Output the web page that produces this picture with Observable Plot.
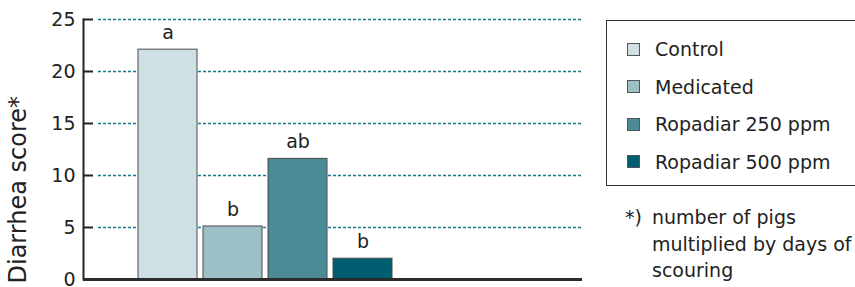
<!DOCTYPE html>
<html>
<head>
<meta charset="utf-8">
<script src="https://cdn.jsdelivr.net/npm/d3@7"></script>
<script src="https://cdn.jsdelivr.net/npm/@observablehq/plot@0.6"></script>
<style>
  html, body { margin: 0; padding: 0; background: #fff; overflow: hidden; }
  #wrap { position: relative; width: 855px; height: 287px; font-family: "DejaVu Sans", sans-serif; color: #222; }
  #legend { position: absolute; left: 606px; top: 20px; width: 270px; height: 166px; border: 1.5px solid #333; box-sizing: border-box; }
  .item { position: absolute; left: 20px; height: 24px; display: flex; align-items: center; font-size: 19px; }
  .sw { width: 11px; height: 11px; border: 1px solid #555; margin-right: 15px; }
  #note { position: absolute; left: 625px; top: 204px; font-size: 19px; line-height: 26.5px; }
  #note .row { display: flex; }
  #note .mark { width: 27px; }
</style>
</head>
<body>
<div id="wrap"></div>
<script>
const groups = ["Control", "Medicated", "Ropadiar 250 ppm", "Ropadiar 500 ppm"];
const values = [22.1, 5.1, 11.6, 2.0];
const letters = ["a", "b", "ab", "b"];
const colors = ["#cfe0e4", "#9dc0c6", "#4a8b97", "#005e70"];
const yTicks = [0, 5, 10, 15, 20, 25];
const yLabel = "Diarrhea score*";
const noteLines = ["number of pigs", "multiplied by days of", "scouring"];

const data = groups.map((g, i) => ({group: g, value: values[i], letter: letters[i]}));

const chart = Plot.plot({
  width: 855,
  height: 287,
  marginLeft: 83,
  marginRight: 273,
  marginTop: 19,
  marginBottom: 8,
  style: {fontFamily: "DejaVu Sans, sans-serif", fontSize: "18px", color: "#222", background: "#fff"},
  x: {domain: groups, range: [135, 395], paddingInner: 0.1, paddingOuter: 0.05, axis: null},
  y: {domain: [0, 25], ticks: yTicks},
  color: {domain: groups, range: colors},
  marks: [
    Plot.ruleY(yTicks.filter(d => d > 0), {stroke: "#127c8c", strokeDasharray: "3,2", strokeWidth: 1.3, insetLeft: 15}),
    Plot.barY(data, {x: "group", y: "value", fill: "group", stroke: "#4a4a4a", strokeWidth: 1}),
    Plot.text(data, {x: "group", y: "value", text: "letter", dy: -17, fontSize: 19, fill: "#222"}),
    Plot.axisY({ticks: yTicks, tickSize: 0, tickPadding: 8, label: null, fontSize: 19, fill: "#222"}),
    Plot.axisY({ticks: yTicks, tickSize: -10, text: null, label: null, stroke: "#222", strokeWidth: 2}),
    Plot.frame({anchor: "left", stroke: "#222", strokeWidth: 2}),
    Plot.ruleY([0], {stroke: "#2b2b2b", strokeWidth: 3}),
    Plot.text([yLabel], {frameAnchor: "bottom-left", text: d => d, rotate: -90, textAnchor: "start", lineAnchor: "middle", dx: -65, dy: 4, fontSize: 24, fill: "#222"})
  ]
});

const wrap = document.getElementById("wrap");
wrap.appendChild(chart);

const legend = document.createElement("div");
legend.id = "legend";
groups.forEach((g, i) => {
  const it = document.createElement("div");
  it.className = "item";
  it.style.top = (16 + i * 37.6) + "px";
  const sw = document.createElement("div");
  sw.className = "sw";
  sw.style.background = colors[i];
  const t = document.createElement("span");
  t.textContent = g;
  it.appendChild(sw);
  it.appendChild(t);
  legend.appendChild(it);
});
wrap.appendChild(legend);

const note = document.createElement("div");
note.id = "note";
noteLines.forEach((line, i) => {
  const r = document.createElement("div");
  r.className = "row";
  const m = document.createElement("span");
  m.className = "mark";
  m.textContent = i === 0 ? "*)" : "";
  const t = document.createElement("span");
  t.textContent = line;
  r.appendChild(m);
  r.appendChild(t);
  note.appendChild(r);
});
wrap.appendChild(note);
</script>
</body>
</html>
